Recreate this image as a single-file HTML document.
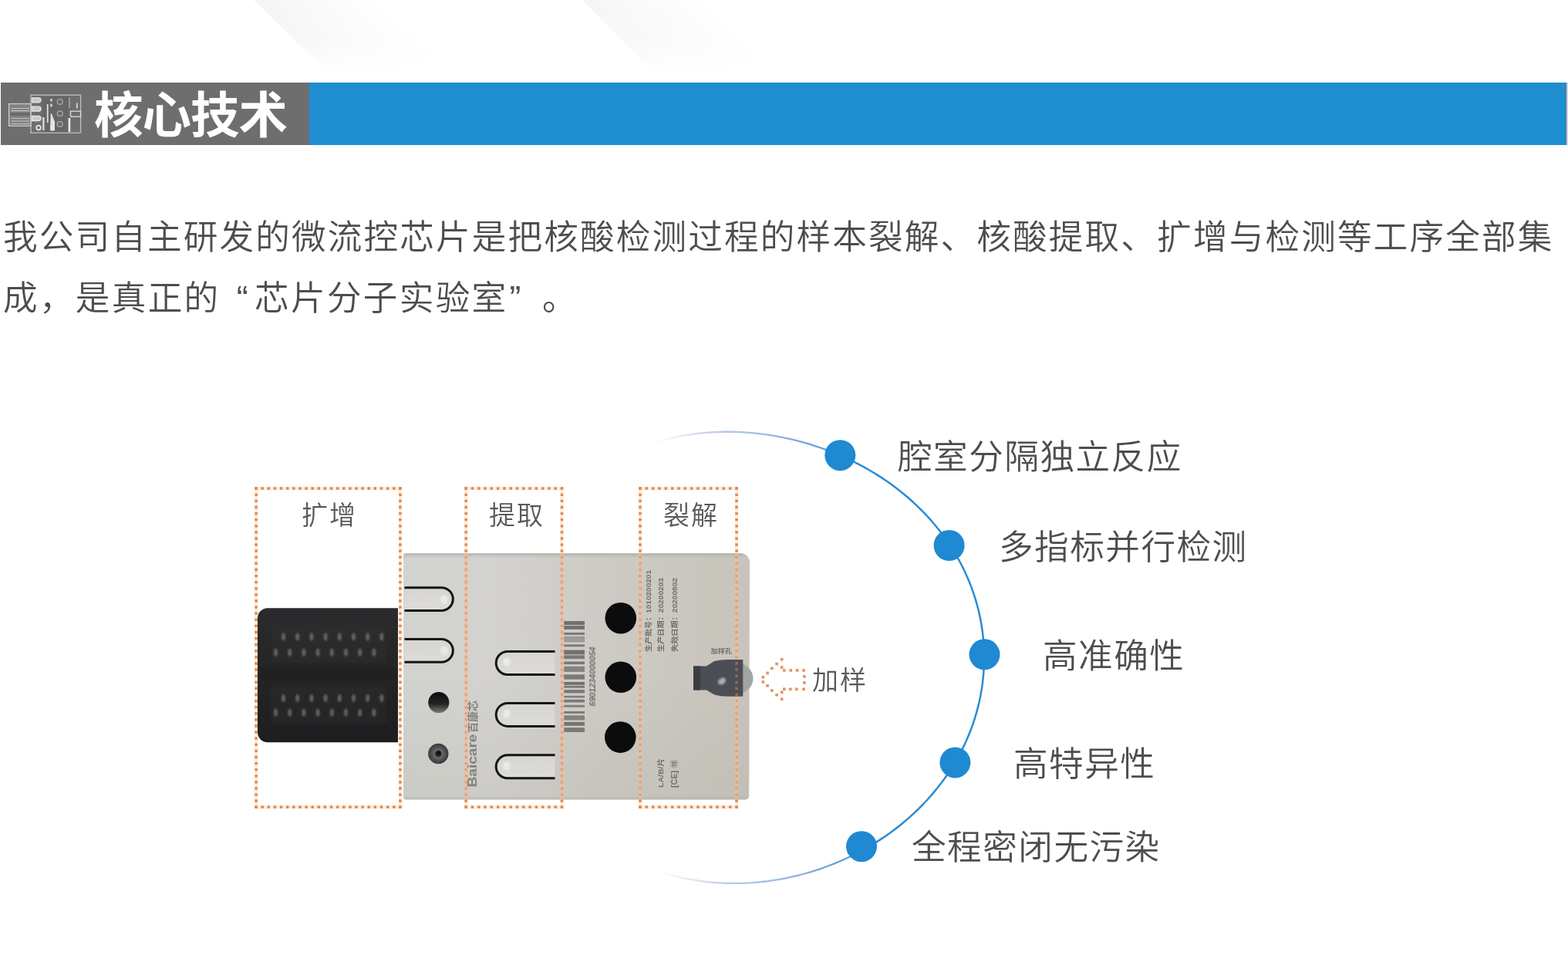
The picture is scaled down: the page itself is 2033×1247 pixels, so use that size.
<!DOCTYPE html>
<html lang="zh-CN">
<head>
<meta charset="utf-8">
<title>核心技术</title>
<style>
  html, body { margin: 0; padding: 0; background: #ffffff; }
  body { width: 2033px; height: 1247px; overflow: hidden; position: relative;
         font-family: "Liberation Sans", "Noto Sans CJK SC", sans-serif; color: #4d4d4d; }
  .abs { position: absolute; }
  .txt { will-change: transform; }
  #page { position: absolute; left: 0; top: 0; width: 2033px; height: 1247px; overflow: hidden; background: #ffffff; }
  #bar-gray { left: 1px; top: 107.3px; width: 400px; height: 80.6px; background: #6e6e6e; }
  #bar-blue { left: 401px; top: 107.3px; width: 1628.6px; height: 80.6px; background: #1f8ed1; }
  #title { left: 121.6px; top: 104.6px; height: 90px; line-height: 90px; font-size: 63.5px; font-weight: 700;
           color: #ffffff; white-space: nowrap; letter-spacing: -1.0px; margin: 0; }
  .para { left: 4.0px; font-size: 44.6px; letter-spacing: 2.16px; line-height: 60px; height: 60px;
          color: #4d4d4d; white-space: nowrap; margin: 0; font-weight: 350; }
  .q { display: inline-block; width: 44.6px; letter-spacing: 0; }
  .ql { text-align: right; box-sizing: border-box; padding-right: 8.5px; }
  .qr { text-align: left; box-sizing: border-box; padding-left: 2px; }
  #p2 { letter-spacing: 2.32px; }
  #p1 { top: 277.7px; }
  #p2 { top: 356.9px; }
  .zlabel { font-weight: 350; font-size: 34px; letter-spacing: 2px; line-height: 44px; height: 44px; color: #585858; white-space: nowrap; }
  .feat { font-weight: 350; font-size: 44.6px; letter-spacing: 1.5px; line-height: 60px; height: 60px; color: #4d4d4d; white-space: nowrap; }
</style>
</head>
<body>
<div id="page">

  <!-- faint background shapes -->
  <svg class="abs" id="bgshapes" style="left:0;top:0" width="2033" height="110" viewBox="0 0 2033 110">
    <defs>
      <linearGradient id="bgfade1" gradientUnits="userSpaceOnUse" x1="370" y1="38" x2="445" y2="-42">
        <stop offset="0" stop-color="#f5f5f5"/>
        <stop offset="1" stop-color="#ffffff"/>
      </linearGradient>
      <linearGradient id="bgfade2" gradientUnits="userSpaceOnUse" x1="790" y1="34" x2="865" y2="-46">
        <stop offset="0" stop-color="#f6f6f6"/>
        <stop offset="1" stop-color="#ffffff"/>
      </linearGradient>
      <linearGradient id="bgv" x1="0" y1="0" x2="0" y2="1">
        <stop offset="0" stop-color="#ffffff" stop-opacity="0"/>
        <stop offset="0.55" stop-color="#ffffff" stop-opacity="0.2"/>
        <stop offset="1" stop-color="#ffffff" stop-opacity="1"/>
      </linearGradient>
    </defs>
    <polygon points="329,0 640,0 640,92 423,92" fill="url(#bgfade1)"/>
    <polygon points="755,0 1060,0 1060,92 845,92" fill="url(#bgfade2)"/>
    <rect x="300" y="0" width="800" height="93" fill="url(#bgv)"/>
  </svg>

  <!-- header -->
  <div class="abs" id="bar-gray"></div>
  <div class="abs" id="bar-blue"></div>
  <div class="abs" id="bar-end" style="left:2029.6px;top:107.3px;width:1.5px;height:80.6px;background:#587088"></div>
  <div class="abs" id="bar-end2" style="left:2031.1px;top:107.3px;width:1.9px;height:80.6px;background:#cbd0d8"></div>
  <svg class="abs" id="icon" style="left:0;top:107px" width="120" height="81" viewBox="0 107 120 81">
    <defs>
      <filter id="iblur" x="-10%" y="-10%" width="120%" height="120%"><feGaussianBlur stdDeviation="0.45"/></filter>
    </defs>
    <g filter="url(#iblur)">
      <rect x="55" y="125.5" width="34" height="46" fill="#5f5f5f" opacity="0.55"/>
      <rect x="12.2" y="135.3" width="27.4" height="27.4" fill="#9a9a9a" opacity="0.45"/>
      <rect x="13" y="146.2" width="26" height="3.6" fill="#666666" opacity="0.9"/>
      <g fill="none" stroke="#cdcdcd" stroke-width="1.3">
        <rect x="40" y="123.2" width="64.6" height="49" stroke="#bdbdbd"/>
        <rect x="11.6" y="134.6" width="28.4" height="28.6"/>
        <path d="M14.5,140.5 H38 M14.5,143.6 H38 M14.5,153.5 H38 M14.5,157 H38 M14.5,160.5 H38" stroke="#c4c4c4" stroke-width="1.1"/>
        <path d="M41.5,126.8 H50 a3,3 0 0 1 0,6 H41.5 Z M41.5,138.2 H50 a3,3 0 0 1 0,6 H41.5 Z M41.5,150.5 H50 a3,3 0 0 1 0,6 H41.5 Z" stroke-width="1.3" stroke="#e6e6e6" fill="#c9c9c9"/>
        <circle cx="50" cy="165.5" r="2.8" stroke-width="1.7" stroke="#e9e9e9"/>
        <path d="M56.4,152 V169" stroke-width="2" stroke="#ededed"/>
        <path d="M61.7,135 V159" stroke-width="1.8" stroke="#dedede"/>
        <path d="M66.5,128 V131.5 M66.5,134.5 V138.5" stroke-width="2.4" stroke="#d6d6d6"/>
        <path d="M66.3,147 L70.5,158 V169 H65.5 Z" fill="#e4e4e4" stroke="#e4e4e4" stroke-width="1"/>
        <circle cx="77.7" cy="132" r="3.4" stroke="#a9a9a9"/>
        <circle cx="77.7" cy="147.3" r="3.4" stroke="#a9a9a9"/>
        <circle cx="77.7" cy="161" r="3.4" stroke="#a9a9a9"/>
        <path d="M89.9,126.5 V140" stroke-width="1.3" stroke="#b4b4b4"/>
        <path d="M99.8,133.5 V140.5" stroke-width="1.6" stroke="#e0e0e0"/>
        <path d="M89.9,153 V171" stroke-width="2.6" stroke="#ececec"/>
        <rect x="91.5" y="144.2" width="13" height="7" stroke="#dcdcdc"/>
      </g>
    </g>
  </svg>
  <h1 class="abs txt" id="title">核心技术</h1>

  <!-- paragraph -->
  <p class="abs txt para" id="p1">我公司自主研发的微流控芯片是把核酸检测过程的样本裂解、核酸提取、扩增与检测等工序全部集</p>
  <p class="abs txt para" id="p2">成，是真正的<span class="q ql">“</span>芯片分子实验室<span class="q qr">”</span>。</p>

  <!-- diagram graphics -->
  <svg class="abs" id="diagram" style="left:0;top:0" width="2033" height="1247" viewBox="0 0 2033 1247">
    <defs>
      <linearGradient id="chipg" x1="0" y1="0" x2="1" y2="0">
        <stop offset="0" stop-color="#d2d2ce"/>
        <stop offset="0.25" stop-color="#d3d2ce"/>
        <stop offset="0.55" stop-color="#cecbc6"/>
        <stop offset="1" stop-color="#c8c4bb"/>
      </linearGradient>
      <linearGradient id="chipedge" x1="0" y1="0" x2="0" y2="1">
        <stop offset="0" stop-color="#9c9a96" stop-opacity="0.6"/>
        <stop offset="0.02" stop-color="#b5b3af" stop-opacity="0"/>
        <stop offset="0.5" stop-color="#8a8878" stop-opacity="0"/>
        <stop offset="0.985" stop-color="#8a8878" stop-opacity="0.09"/>
        <stop offset="1" stop-color="#a8a6a2" stop-opacity="0.45"/>
      </linearGradient>
      <linearGradient id="blackg" x1="0" y1="0" x2="0" y2="1">
        <stop offset="0" stop-color="#2b2b2d"/>
        <stop offset="0.5" stop-color="#242426"/>
        <stop offset="1" stop-color="#1e1e21"/>
      </linearGradient>
      <linearGradient id="arcTop" gradientUnits="userSpaceOnUse" x1="850" y1="0" x2="1089" y2="0">
        <stop offset="0" stop-color="#c3cde6" stop-opacity="0"/>
        <stop offset="0.3" stop-color="#b7c6e4" stop-opacity="0.85"/>
        <stop offset="0.7" stop-color="#8eb0de"/>
        <stop offset="1" stop-color="#4f95d8"/>
      </linearGradient>
      <linearGradient id="arcBot" gradientUnits="userSpaceOnUse" x1="855" y1="0" x2="1117" y2="0">
        <stop offset="0" stop-color="#c3cde6" stop-opacity="0"/>
        <stop offset="0.3" stop-color="#b7c6e4" stop-opacity="0.85"/>
        <stop offset="0.7" stop-color="#8eb0de"/>
        <stop offset="1" stop-color="#4f95d8"/>
      </linearGradient>
      <linearGradient id="hole1" x1="0" y1="0" x2="0" y2="1">
        <stop offset="0" stop-color="#0d0d0d"/>
        <stop offset="0.55" stop-color="#222"/>
        <stop offset="1" stop-color="#7c7c7a"/>
      </linearGradient>
      <radialGradient id="hole2" cx="0.5" cy="0.5" r="0.5">
        <stop offset="0" stop-color="#1a1a1a"/>
        <stop offset="0.25" stop-color="#2a2a2a"/>
        <stop offset="0.4" stop-color="#6a6a6a"/>
        <stop offset="0.75" stop-color="#4a4a4a"/>
        <stop offset="1" stop-color="#3a3a3a"/>
      </radialGradient>
      <linearGradient id="slotfill" x1="0" y1="0" x2="0" y2="1">
        <stop offset="0" stop-color="#d6d5d1"/>
        <stop offset="1" stop-color="#dddcd8"/>
      </linearGradient>
      <filter id="soft05" x="-5%" y="-5%" width="110%" height="110%"><feGaussianBlur stdDeviation="0.65"/></filter>
      <filter id="soft04" x="-5%" y="-5%" width="110%" height="110%"><feGaussianBlur stdDeviation="0.4"/></filter>
      <filter id="soft" x="-10%" y="-10%" width="120%" height="120%"><feGaussianBlur stdDeviation="0.7"/></filter>
      <filter id="soft2" x="-20%" y="-20%" width="140%" height="140%"><feGaussianBlur stdDeviation="1.2"/></filter>
    </defs>

    <!-- dotted zone boxes -->
    <g id="zones-band" fill="none" stroke="#f7dcc0" stroke-width="4.2" opacity="0.55" filter="url(#soft)">
      <rect x="332.1" y="633.2" width="186.8" height="413"/>
      <rect x="604.2" y="633.2" width="124.3" height="413"/>
      <rect x="830" y="633.2" width="125" height="413"/>
    </g>
    <g id="zones" fill="none" stroke="#e1864a" stroke-width="3.3" opacity="0.92" filter="url(#soft05)">
      <line x1="330.45" y1="633.2" x2="520.55" y2="633.2" stroke-dasharray="3.3 4.82"/>
      <line x1="518.9" y1="631.55" x2="518.9" y2="1047.85" stroke-dasharray="3.3 4.8"/>
      <line x1="330.45" y1="1046.2" x2="520.55" y2="1046.2" stroke-dasharray="3.3 4.82"/>
      <line x1="332.1" y1="631.55" x2="332.1" y2="1047.85" stroke-dasharray="3.3 4.8"/>
      <line x1="602.55" y1="633.2" x2="730.15" y2="633.2" stroke-dasharray="3.3 4.99"/>
      <line x1="728.5" y1="631.55" x2="728.5" y2="1047.85" stroke-dasharray="3.3 4.8"/>
      <line x1="602.55" y1="1046.2" x2="730.15" y2="1046.2" stroke-dasharray="3.3 4.99"/>
      <line x1="604.2" y1="631.55" x2="604.2" y2="1047.85" stroke-dasharray="3.3 4.8"/>
      <line x1="828.35" y1="633.2" x2="956.65" y2="633.2" stroke-dasharray="3.3 5.03"/>
      <line x1="955" y1="631.55" x2="955" y2="1047.85" stroke-dasharray="3.3 4.8"/>
      <line x1="828.35" y1="1046.2" x2="956.65" y2="1046.2" stroke-dasharray="3.3 5.03"/>
      <line x1="830" y1="631.55" x2="830" y2="1047.85" stroke-dasharray="3.3 4.8"/>
    </g>

    <!-- black connector part -->
    <g id="blackpart">
      <path d="M347,788.3 H516 V962.3 H347 a13,13 0 0 1 -13,-13 V801.3 a13,13 0 0 1 13,-13 Z" fill="url(#blackg)"/>
      <rect x="351" y="811" width="150" height="48" rx="4" fill="#303033" opacity="0.35" filter="url(#soft2)"/>
      <rect x="351" y="890" width="150" height="48" rx="4" fill="#303033" opacity="0.35" filter="url(#soft2)"/>
      <rect x="338" y="866" width="178" height="16" fill="#1f1f21" opacity="0.6"/>
      <g fill="#8d8d90" opacity="0.55" filter="url(#soft2)">
        <ellipse cx="367.5" cy="825.5" rx="2.6" ry="5"/>
        <ellipse cx="385.7" cy="825.5" rx="2.6" ry="5"/>
        <ellipse cx="403.9" cy="825.5" rx="2.6" ry="5"/>
        <ellipse cx="422.1" cy="825.5" rx="2.6" ry="5"/>
        <ellipse cx="440.3" cy="825.5" rx="2.6" ry="5"/>
        <ellipse cx="458.5" cy="825.5" rx="2.6" ry="5"/>
        <ellipse cx="476.7" cy="825.5" rx="2.6" ry="5"/>
        <ellipse cx="494.9" cy="825.5" rx="2.6" ry="5"/>
        <ellipse cx="357.5" cy="845.7" rx="2.6" ry="5"/>
        <ellipse cx="375.7" cy="845.7" rx="2.6" ry="5"/>
        <ellipse cx="393.9" cy="845.7" rx="2.6" ry="5"/>
        <ellipse cx="412.1" cy="845.7" rx="2.6" ry="5"/>
        <ellipse cx="430.3" cy="845.7" rx="2.6" ry="5"/>
        <ellipse cx="448.5" cy="845.7" rx="2.6" ry="5"/>
        <ellipse cx="466.7" cy="845.7" rx="2.6" ry="5"/>
        <ellipse cx="484.9" cy="845.7" rx="2.6" ry="5"/>
        <ellipse cx="367.5" cy="905" rx="2.6" ry="5"/>
        <ellipse cx="385.7" cy="905" rx="2.6" ry="5"/>
        <ellipse cx="403.9" cy="905" rx="2.6" ry="5"/>
        <ellipse cx="422.1" cy="905" rx="2.6" ry="5"/>
        <ellipse cx="440.3" cy="905" rx="2.6" ry="5"/>
        <ellipse cx="458.5" cy="905" rx="2.6" ry="5"/>
        <ellipse cx="476.7" cy="905" rx="2.6" ry="5"/>
        <ellipse cx="494.9" cy="905" rx="2.6" ry="5"/>
        <ellipse cx="357.5" cy="923.7" rx="2.6" ry="5"/>
        <ellipse cx="375.7" cy="923.7" rx="2.6" ry="5"/>
        <ellipse cx="393.9" cy="923.7" rx="2.6" ry="5"/>
        <ellipse cx="412.1" cy="923.7" rx="2.6" ry="5"/>
        <ellipse cx="430.3" cy="923.7" rx="2.6" ry="5"/>
        <ellipse cx="448.5" cy="923.7" rx="2.6" ry="5"/>
        <ellipse cx="466.7" cy="923.7" rx="2.6" ry="5"/>
        <ellipse cx="484.9" cy="923.7" rx="2.6" ry="5"/>
      </g>
    </g>

    <!-- chip body -->
    <g id="chip">
      <path id="chipshape" d="M526,717.2 H960 a12,12 0 0 1 12,12 L971.2,1031.5 a5,5 0 0 1 -5,5 H526 a3,3 0 0 1 -3,-3 V720.2 a3,3 0 0 1 3,-3 Z" fill="url(#chipg)"/>
      <path d="M526,717.2 H960 a12,12 0 0 1 12,12 L971.2,1031.5 a5,5 0 0 1 -5,5 H526 a3,3 0 0 1 -3,-3 V720.2 a3,3 0 0 1 3,-3 Z" fill="url(#chipedge)"/>

      <!-- light band of the dotted boxes where they cross the chip -->
      <g id="zones-band-over" fill="none" stroke="#f0bf98" stroke-width="4.2" opacity="0.6" filter="url(#soft)">
        <path d="M604.2,717 V1036 M728.5,717 V1036 M830,717 V1036 M955,717 V1036"/>
      </g>

      <!-- left slots -->
      <g fill="url(#slotfill)" stroke="#151515" stroke-width="3">
        <path d="M524.5,761.7 H572.4 A14.9,14.9 0 0 1 572.4,791.5 H524.5" />
        <path d="M524.5,828.4 H572.4 A14.9,14.9 0 0 1 572.4,858.2 H524.5" />
      </g>
      <g fill="#efeeec" opacity="0.8" filter="url(#soft2)">
        <ellipse cx="576" cy="777" rx="5" ry="5.5"/>
        <ellipse cx="576" cy="843.5" rx="5" ry="5.5"/>
      </g>

      <!-- round holes -->
      <circle cx="568.8" cy="910.7" r="13.6" fill="url(#hole1)"/>
      <circle cx="568.3" cy="977" r="13.2" fill="url(#hole2)"/>
      <circle cx="569" cy="976" r="2.6" fill="#111"/>

      <!-- middle slots -->
      <g fill="url(#slotfill)" stroke="#151515" stroke-width="3">
        <path d="M719.5,844.5 H658.2 A15.0,15.0 0 0 0 658.2,874.5 H719.5" />
        <path d="M719.5,911.4 H658.2 A15.0,15.0 0 0 0 658.2,941.4 H719.5" />
        <path d="M719.5,978.8 H658.2 A15.0,15.0 0 0 0 658.2,1008.8 H719.5" />
      </g>
      <g fill="#efeeec" opacity="0.8" filter="url(#soft2)">
        <ellipse cx="657" cy="858" rx="5" ry="5.5"/>
        <ellipse cx="657" cy="925" rx="5" ry="5.5"/>
        <ellipse cx="657" cy="992.5" rx="5" ry="5.5"/>
      </g>

      <!-- barcode -->
      <g fill="#6f6c68" opacity="0.95" filter="url(#soft)">
        <rect x="731.2" y="805.07" width="26.8" height="5.05" opacity="1"/>
        <rect x="731.2" y="811.09" width="26.8" height="4.81" opacity="1"/>
        <rect x="731.2" y="819.99" width="26.8" height="2.89" opacity="0.9"/>
        <rect x="731.2" y="824.8" width="26.8" height="7.7" opacity="0.55"/>
        <rect x="731.2" y="835.39" width="26.8" height="2.89" opacity="0.9"/>
        <rect x="731.2" y="842.61" width="26.8" height="5.77" opacity="1"/>
        <rect x="731.2" y="849.35" width="26.8" height="4.81" opacity="0.9"/>
        <rect x="731.2" y="857.53" width="26.8" height="3.61" opacity="0.9"/>
        <rect x="731.2" y="863.78" width="26.8" height="7.22" opacity="0.8"/>
        <rect x="731.2" y="874.37" width="26.8" height="6.26" opacity="0.9"/>
        <rect x="731.2" y="883.99" width="26.8" height="3.85" opacity="1"/>
        <rect x="731.2" y="888.81" width="26.8" height="2.89" opacity="0.9"/>
        <rect x="731.2" y="894.1" width="26.8" height="4.33" opacity="0.9"/>
        <rect x="731.2" y="901.8" width="26.8" height="2.65" opacity="0.85"/>
        <rect x="731.2" y="906.85" width="26.8" height="3.61" opacity="0.9"/>
        <rect x="731.2" y="913.83" width="26.8" height="2.89" opacity="0.85"/>
        <rect x="731.2" y="922.01" width="26.8" height="2.89" opacity="0.9"/>
        <rect x="731.2" y="927.31" width="26.8" height="6.26" opacity="0.8"/>
        <rect x="731.2" y="935.97" width="26.8" height="4.81" opacity="0.95"/>
        <rect x="731.2" y="943.19" width="26.8" height="5.77" opacity="0.9"/>
      </g>

      <!-- black circles -->
      <g fill="#0c0c0c">
        <circle cx="804.8" cy="801.2" r="20.3"/>
        <circle cx="804.8" cy="877.8" r="20.3"/>
        <circle cx="804.3" cy="955.6" r="20.3"/>
      </g>

      <!-- sample port -->
      <g id="port">
        <ellipse cx="953" cy="879.5" rx="23.5" ry="21" fill="#a3a5a1"/>
        <path d="M899,863.5 H916 L926,857 Q934,855 944,855 H963.3 V902.8 H944 Q934,902.8 926,900.5 L916,894.5 H899 Z" fill="#4b4f55"/>
        <rect x="899" y="863.5" width="9" height="31" fill="#3b3d42"/>
        <ellipse cx="936" cy="883" rx="5.5" ry="4" fill="#b9bbbb" opacity="0.85" filter="url(#soft2)" transform="rotate(-35 936 883)"/>
      </g>

      <!-- printed text on the chip -->
      <g font-family="'Liberation Sans','Noto Sans CJK SC',sans-serif" fill="#6b6863" font-weight="700" filter="url(#soft04)" opacity="0.92">
        <text transform="translate(617.8 1020.5) rotate(-90)" fill="#7d7a75"><tspan font-size="16" textLength="69" lengthAdjust="spacingAndGlyphs">Baicare</tspan><tspan font-size="13.5" dx="1.5" textLength="42" lengthAdjust="spacingAndGlyphs">百康芯</tspan></text>
        <text transform="translate(772 915.5) rotate(-90)" font-size="10" textLength="77" lengthAdjust="spacingAndGlyphs" font-style="italic">6901234000054</text>
        <text transform="translate(843.5 845) rotate(-90)" font-size="9.5" textLength="106" lengthAdjust="spacingAndGlyphs">生产批号：1010200201</text>
        <text transform="translate(860.3 845) rotate(-90)" font-size="9.5" textLength="96" lengthAdjust="spacingAndGlyphs">生产日期：20200203</text>
        <text transform="translate(877.6 845) rotate(-90)" font-size="9.5" textLength="96" lengthAdjust="spacingAndGlyphs">失效日期：20200802</text>
        <text x="921.5" y="846.6" font-size="8.5" textLength="27.5" lengthAdjust="spacingAndGlyphs">加样孔</text>
        <text transform="translate(860 1021) rotate(-90)" font-size="9.5" textLength="38" lengthAdjust="spacingAndGlyphs">LA/B/片</text>
        <text transform="translate(877.5 1021) rotate(-90)" font-size="10" textLength="36" lengthAdjust="spacingAndGlyphs">[CE] ⑩</text>
      </g>
    </g>

    <!-- dotted zone boxes (lighter where they cross the chip) -->
    <g id="zones-over" fill="none" stroke="#e1864a" stroke-width="3.3" opacity="0.55" filter="url(#soft05)">
      <line x1="330.45" y1="633.2" x2="520.55" y2="633.2" stroke-dasharray="3.3 4.82"/>
      <line x1="518.9" y1="631.55" x2="518.9" y2="1047.85" stroke-dasharray="3.3 4.8"/>
      <line x1="330.45" y1="1046.2" x2="520.55" y2="1046.2" stroke-dasharray="3.3 4.82"/>
      <line x1="332.1" y1="631.55" x2="332.1" y2="1047.85" stroke-dasharray="3.3 4.8"/>
      <line x1="602.55" y1="633.2" x2="730.15" y2="633.2" stroke-dasharray="3.3 4.99"/>
      <line x1="728.5" y1="631.55" x2="728.5" y2="1047.85" stroke-dasharray="3.3 4.8"/>
      <line x1="602.55" y1="1046.2" x2="730.15" y2="1046.2" stroke-dasharray="3.3 4.99"/>
      <line x1="604.2" y1="631.55" x2="604.2" y2="1047.85" stroke-dasharray="3.3 4.8"/>
      <line x1="828.35" y1="633.2" x2="956.65" y2="633.2" stroke-dasharray="3.3 5.03"/>
      <line x1="955" y1="631.55" x2="955" y2="1047.85" stroke-dasharray="3.3 4.8"/>
      <line x1="828.35" y1="1046.2" x2="956.65" y2="1046.2" stroke-dasharray="3.3 5.03"/>
      <line x1="830" y1="631.55" x2="830" y2="1047.85" stroke-dasharray="3.3 4.8"/>
    </g>

    <!-- arrow -->
    <g id="arrow" fill="#e1864a" opacity="0.9" filter="url(#soft05)">
      <rect x="1011.9" y="852.99" width="3.6" height="3.6"/>
      <rect x="1005.26" y="858.75" width="3.6" height="3.6"/>
      <rect x="999.06" y="864.5" width="3.6" height="3.6"/>
      <rect x="993.31" y="870.7" width="3.6" height="3.6"/>
      <rect x="987.55" y="876.01" width="3.6" height="3.6"/>
      <rect x="987.55" y="882.21" width="3.6" height="3.6"/>
      <rect x="993.31" y="887.08" width="3.6" height="3.6"/>
      <rect x="999.06" y="893.28" width="3.6" height="3.6"/>
      <rect x="1005.26" y="899.03" width="3.6" height="3.6"/>
      <rect x="1011.9" y="904.35" width="3.6" height="3.6"/>
      <rect x="1011.9" y="863.17" width="3.6" height="3.6"/>
      <rect x="1011.9" y="895.49" width="3.6" height="3.6"/>
      <rect x="1015" y="867.16" width="3.6" height="3.6"/>
      <rect x="1023.41" y="867.16" width="3.6" height="3.6"/>
      <rect x="1031.82" y="867.16" width="3.6" height="3.6"/>
      <rect x="1040.23" y="867.16" width="3.6" height="3.6"/>
      <rect x="1041.12" y="875.13" width="3.6" height="3.6"/>
      <rect x="1041.12" y="883.1" width="3.6" height="3.6"/>
      <rect x="1015" y="891.51" width="3.6" height="3.6"/>
      <rect x="1022.97" y="891.51" width="3.6" height="3.6"/>
      <rect x="1030.94" y="891.51" width="3.6" height="3.6"/>
      <rect x="1040.23" y="891.51" width="3.6" height="3.6"/>
    </g>

    <!-- arc -->
    <g id="arc" fill="none" stroke-linecap="round" stroke-linejoin="round">
      <path d="M843.8,575.33 L850.5,573.2 L857.24,571.23 L864.02,569.42 L870.83,567.78 L877.67,566.29 L884.53,564.95 L891.41,563.78 L898.31,562.75 L905.23,561.88 L912.15,561.16 L919.08,560.58 L926.02,560.16 L932.96,559.88 L939.9,559.74 L946.83,559.74 L953.76,559.88 L960.68,560.16 L967.59,560.57 L974.49,561.12 L981.38,561.8 L988.25,562.61 L995.11,563.56 L1001.95,564.63 L1008.77,565.83 L1015.57,567.16 L1022.35,568.61 L1029.11,570.19 L1035.85,571.9 L1042.56,573.73 L1049.24,575.69 L1055.9,577.78 L1062.53,579.99 L1069.12,582.32 L1075.69,584.79 L1082.22,587.39 L1088.71,590.11" stroke="url(#arcTop)" stroke-width="2.3"/>
      <path d="M1088.71,590.11 L1094.95,592.87 L1101.16,595.75 L1107.32,598.75 L1113.44,601.88 L1119.51,605.13 L1125.53,608.51 L1131.5,612.02 L1137.42,615.66 L1143.28,619.42 L1149.08,623.32 L1154.81,627.35 L1160.47,631.51 L1166.05,635.8 L1171.56,640.23 L1176.98,644.79 L1182.32,649.49 L1187.56,654.31 L1192.7,659.28 L1197.74,664.37 L1202.67,669.59 L1207.49,674.95 L1212.18,680.44 L1216.75,686.05 L1221.19,691.79 L1225.5,697.65 L1229.66,703.64 L1233.68,709.74 L1237.54,715.96 L1241.25,722.29 L1244.79,728.73 L1248.17,735.27 L1251.37,741.91 L1254.39,748.65 L1257.24,755.48 L1259.89,762.4 L1262.36,769.39 L1264.63,776.46 L1266.7,783.6 L1268.57,790.8 L1270.24,798.06 L1271.7,805.37 L1272.95,812.72 L1273.99,820.11 L1274.82,827.53 L1275.43,834.98 L1275.83,842.44 L1276.01,849.91 L1275.98,857.38 L1275.73,864.85 L1275.27,872.31 L1274.59,879.74 L1273.7,887.16 L1272.59,894.54 L1271.28,901.88 L1269.76,909.18 L1268.04,916.43 L1266.11,923.62 L1263.99,930.74 L1261.67,937.8 L1259.16,944.78 L1256.46,951.68 L1253.57,958.5 L1250.51,965.22 L1247.28,971.86 L1243.87,978.39 L1240.3,984.82 L1236.57,991.14 L1232.69,997.35 L1228.65,1003.45 L1224.47,1009.43 L1220.15,1015.29 L1215.7,1021.04 L1211.11,1026.65 L1206.41,1032.15 L1201.58,1037.51 L1196.64,1042.75 L1191.59,1047.85 L1186.44,1052.83 L1181.19,1057.67 L1175.84,1062.39 L1170.41,1066.97 L1164.89,1071.41 L1159.28,1075.73 L1153.6,1079.91 L1147.85,1083.96 L1142.03,1087.87 L1136.14,1091.66 L1130.19,1095.31 L1124.18,1098.83 L1118.12,1102.22" stroke="#2b8bd4" stroke-width="2.5"/>
      <path d="M1118.12,1102.22 L1110.88,1106.06 L1103.58,1109.72 L1096.21,1113.19 L1088.78,1116.49 L1081.29,1119.61 L1073.75,1122.54 L1066.17,1125.3 L1058.53,1127.88 L1050.86,1130.28 L1043.15,1132.5 L1035.4,1134.54 L1027.61,1136.4 L1019.8,1138.09 L1011.96,1139.59 L1004.1,1140.91 L996.22,1142.05 L988.32,1143 L980.4,1143.77 L972.47,1144.35 L964.54,1144.74 L956.6,1144.95 L948.66,1144.96 L940.72,1144.78 L932.79,1144.41 L924.88,1143.84 L916.97,1143.07 L909.09,1142.11 L901.24,1140.94 L893.42,1139.58 L885.63,1138.01 L877.88,1136.25 L870.18,1134.27 L862.53,1132.1 L854.94,1129.72 L847.42,1127.14 L839.96,1124.36" stroke="url(#arcBot)" stroke-width="2.3"/>
    </g>
    <g id="dots" fill="#1f89d2">
      <circle cx="1089.3" cy="590.2" r="20"/>
      <circle cx="1230.6" cy="707" r="20"/>
      <circle cx="1276.5" cy="848.3" r="20"/>
      <circle cx="1238.4" cy="988.4" r="20"/>
      <circle cx="1117" cy="1097.2" r="20"/>
    </g>
  </svg>

  <!-- diagram text -->
  <div class="abs txt zlabel" style="left:391px;top:646.2px">扩增</div>
  <div class="abs txt zlabel" style="left:633.6px;top:646.2px">提取</div>
  <div class="abs txt zlabel" style="left:860.4px;top:646.2px">裂解</div>
  <div class="abs txt zlabel" style="left:1053.2px;top:860.4px">加样</div>

  <div class="abs txt feat" style="left:1163.95px;top:562.5px">腔室分隔独立反应</div>
  <div class="abs txt feat" style="left:1295.4px;top:679.7px">多指标并行检测</div>
  <div class="abs txt feat" style="left:1352.05px;top:820.8px">高准确性</div>
  <div class="abs txt feat" style="left:1314.05px;top:960.8px">高特异性</div>
  <div class="abs txt feat" style="left:1182.4px;top:1068.8px">全程密闭无污染</div>

</div>
</body>
</html>
